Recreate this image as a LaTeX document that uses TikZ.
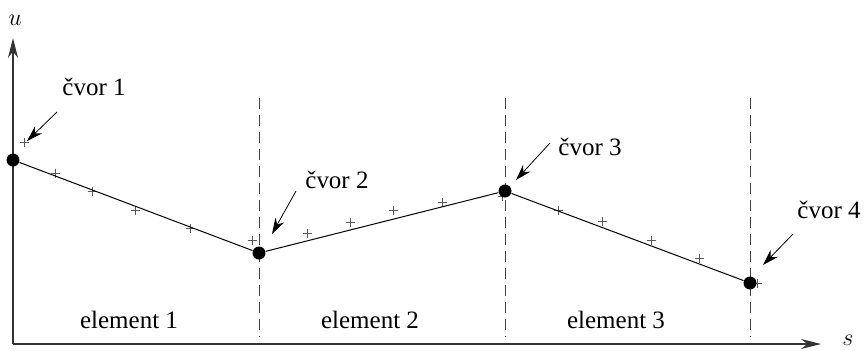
\documentclass[tikz,border=0pt]{standalone}
\usepackage{fontspec}
\setmainfont{Liberation Serif}
\newfontfamily\tekst{Liberation Serif}
\usetikzlibrary{arrows.meta}
\begin{document}
\begin{tikzpicture}[x=0.5pt, y=-0.5pt, every node/.style={font=\tekst\fontsize{12.5}{15}\selectfont},
    cvor/.style={circle, fill=black, inner sep=0pt, minimum size=6.5pt},
    pokazivac/.style={-{Stealth[length=8pt, width=5pt]}, line width=0.4pt},
    granica/.style={dash pattern=on 5.5pt off 3pt, line width=0.5pt, black!75},
    mjerenje/.style={line width=0.35pt, black!65}]
    \useasboundingbox (0,0) rectangle (864,350);

    % osi
    \coordinate (o) at (13,344);
    \coordinate (uvrh) at (13,38);
    \coordinate (skraj) at (821,344);
    \draw[line width=0.8pt, black!80, -{Stealth[length=10pt, width=5pt]}] (o) -- (uvrh);
    \draw[line width=0.8pt, black!80, -{Stealth[length=10pt, width=5pt]}] (o) -- (skraj);
    \node[inner sep=0pt] (u) at (15,20) {$u$};
    \node[inner sep=0pt] (s) at (848,340) {$s$};

    % granice elemenata
    \foreach \x in {259,505,750}
        \draw[granica] (\x,98) -- (\x,337);

    % izmjerene vrijednosti
    \foreach \x/\y in {24/142, 55/173, 92/191, 135/210, 190/228, 252/240,
                       307/233, 350/222, 393/210, 442/202, 502/196,
                       558/210, 602/221, 651/240, 699/258, 757/283}
        \draw[mjerenje] (\x,\y) +(-4.5,0) -- +(4.5,0) +(0,-4.5) -- +(0,4.5);

    % cvorovi
    \node[cvor] (c1) at (13,160) {};
    \node[cvor] (c2) at (259,253) {};
    \node[cvor] (c3) at (505,191) {};
    \node[cvor] (c4) at (750,283) {};
    \draw[line width=0.5pt] (c1) -- (c2) -- (c3) -- (c4);

    \node[anchor=base west, inner sep=0pt] (l1) at (62,95) {čvor 1};
    \node[anchor=base west, inner sep=0pt] (l2) at (305,188) {čvor 2};
    \node[anchor=base west, inner sep=0pt] (l3) at (558,155) {čvor 3};
    \node[anchor=base west, inner sep=0pt] (l4) at (797,218) {čvor 4};

    \coordinate (p1) at (57,112);  \coordinate (k1) at (27,141);
    \coordinate (p2) at (296,191); \coordinate (k2) at (272,234);
    \coordinate (p3) at (550,143); \coordinate (k3) at (516,180);
    \coordinate (p4) at (793,234); \coordinate (k4) at (763,265);
    \foreach \i in {1,...,4}
        \draw[pokazivac] (p\i) -- (k\i);

    % elementi
    \node[anchor=base] (e1) at (129,328) {element 1};
    \node[anchor=base] (e2) at (370,328) {element 2};
    \node[anchor=base] (e3) at (616,328) {element 3};
\end{tikzpicture}
\end{document}
